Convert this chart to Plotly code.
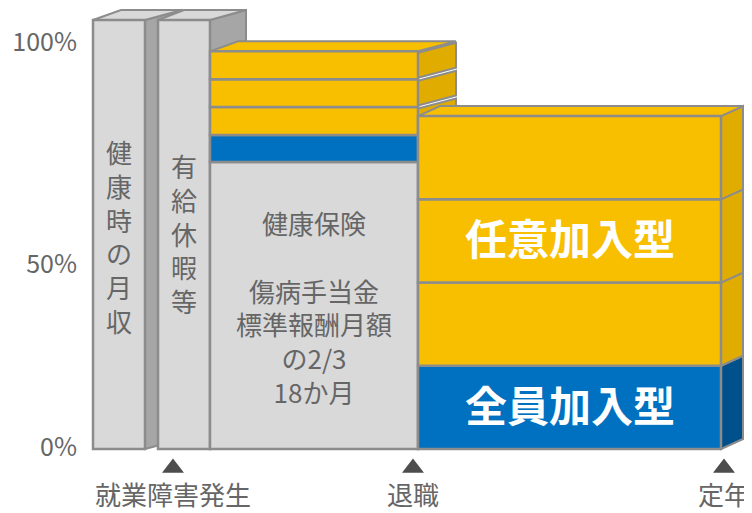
import plotly.graph_objects as go

# ---------------- data ----------------
categories = ["健康時の月収", "有給休暇等", "健康保険", "退職後"]
bar1_values = [100.0]
bar1_kinds = ["gray"]
bar2_values = [100.0]
bar2_kinds = ["gray"]
bar3_values = [66.9, 6.3, 6.5, 6.5, 6.5]
bar3_kinds = ["gray", "blue", "yellow", "yellow", "yellow"]
bar4_values = [19.4, 19.4, 19.4, 19.4]
bar4_kinds = ["blue", "yellow", "yellow", "yellow"]

bar1_text = "健<br>康<br>時<br>の<br>月<br>収"
bar2_text = "有<br>給<br>休<br>暇<br>等"
bar3_text = "健康保険<br> <br>傷病手当金<br>標準報酬月額<br>の2/3<br>18か月"
bar4_texts = ["全員加入型", "任意加入型"]

tick_text = ["0%", "50%", "100%"]
tick_vals = [0.5, 43.1, 94.9]

event_labels = ["就業障害発生", "退職", "定年"]

# ---------------- layout / style ----------------
PAGE_W, PAGE_H = 752, 513
BODY = 8  # default page margin around the plot div
W, H = PAGE_W - BODY, PAGE_H - BODY
BASE_PX = 449.0
PX_PER_UNIT = 4.29
ML = 70
bar_left = [93, 158, 210, 418]
bar_right = [145, 210, 418, 721]
depth_left = [28, 26, 28, 22]
depth_right = [37, 36, 38, 22]
DEPTH_DY = 10 / PX_PER_UNIT
event_x = [173, 413, 724]
split_sides = [False, False, True, False]

FONT = "Noto Sans CJK JP"
EDGE = "#8C8C8C"
TXT = "#666666"
front = {"gray": "#D9D9D9", "blue": "#0070C0", "yellow": "#F8BE00"}
top_c = {"gray": "#D9D9D9", "blue": "#0070C0", "yellow": "#F8BE00"}
side_c = {"gray": "#A6A6A6", "blue": "#00508C", "yellow": "#E0AC00"}

y_top = (BASE_PX - BODY) / PX_PER_UNIT
y_bot = -(PAGE_H - BASE_PX) / PX_PER_UNIT

fig = go.Figure()
shapes = []

bars = [
    (bar1_values, bar1_kinds),
    (bar2_values, bar2_kinds),
    (bar3_values, bar3_kinds),
    (bar4_values, bar4_kinds),
]


def poly(pts, fill):
    d = "M " + " L ".join(f"{x},{y}" for x, y in pts) + " Z"
    return dict(type="path", path=d, xref="x", yref="y", fillcolor=fill,
                line=dict(color=EDGE, width=2), layer="below")


for i, (vals, kinds) in enumerate(bars):
    L, R = bar_left[i], bar_right[i]
    dxl, dxr = depth_left[i], depth_right[i]
    base = 0.0
    for v, k in zip(vals, kinds):
        fig.add_trace(go.Bar(
            x=[(L + R) / 2], y=[v], base=[base], width=[R - L],
            marker=dict(color=front[k], line=dict(color=EDGE, width=2.5)),
            name=categories[i], showlegend=False, hoverinfo="skip"))
        b0, b1 = base, base + v
        if split_sides[i]:
            g = 0.35
            b0s, b1s = (b0 + g if b0 > 0 else b0), b1 - g
        else:
            b0s, b1s = b0, b1
        shapes.append(poly([(R, b0s), (R + dxr, b0s + DEPTH_DY),
                            (R + dxr, b1s + DEPTH_DY), (R, b1s)], side_c[k]))
        base = b1
    k = kinds[-1]
    shapes.append(poly([(L, base), (R, base), (R + dxr, base + DEPTH_DY),
                        (L + dxl, base + DEPTH_DY)], top_c[k]))

ann = []
txt_font = dict(family=FONT, size=26, color=TXT)
ann.append(dict(x=(bar_left[0] + bar_right[0]) / 2, y=49.6, text=bar1_text,
                showarrow=False, font=txt_font, xref="x", yref="y"))
ann.append(dict(x=(bar_left[1] + bar_right[1]) / 2, y=50.3, text=bar2_text,
                showarrow=False, font=txt_font, xref="x", yref="y"))
ann.append(dict(x=(bar_left[2] + bar_right[2]) / 2, y=33.1, text=bar3_text,
                showarrow=False, font=txt_font, xref="x", yref="y"))
b4_centers = []
acc = 0.0
for v in bar4_values:
    b4_centers.append(acc + v / 2)
    acc += v
bold = dict(family=FONT, size=42, color="white", weight="bold")
ann.append(dict(x=(bar_left[3] + bar_right[3]) / 2, y=b4_centers[0] + 1.0,
                text=bar4_texts[0], showarrow=False, font=bold,
                xref="x", yref="y"))
ann.append(dict(x=(bar_left[3] + bar_right[3]) / 2, y=b4_centers[2] + 1.0,
                text=bar4_texts[1], showarrow=False, font=bold,
                xref="x", yref="y"))

tri_y = (BASE_PX - 468) / PX_PER_UNIT
lab_y = (BASE_PX - 493) / PX_PER_UNIT
fig.add_trace(go.Scatter(x=event_x, y=[tri_y] * len(event_x), mode="markers",
                         marker=dict(symbol="triangle-up", size=19, color="#4D4D4D"),
                         showlegend=False, hoverinfo="skip", cliponaxis=False))
for ex, el in zip(event_x, event_labels):
    ann.append(dict(x=ex, y=lab_y, text=el, showarrow=False,
                    font=dict(family=FONT, size=26, color=TXT),
                    xref="x", yref="y"))

fig.update_layout(
    width=W, height=H, margin=dict(l=ML, r=0, t=0, b=0),
    paper_bgcolor="white", plot_bgcolor="white",
    barmode="overlay", shapes=shapes, annotations=ann,
    xaxis=dict(range=[ML + BODY, PAGE_W], visible=False, fixedrange=True),
    yaxis=dict(range=[y_bot, y_top], showgrid=False, zeroline=False,
               showline=False, ticks="", tickvals=tick_vals, ticktext=tick_text,
               tickfont=dict(family=FONT, size=25, color=TXT),
               fixedrange=True),
    showlegend=False,
)

fig.write_html("out.html")
